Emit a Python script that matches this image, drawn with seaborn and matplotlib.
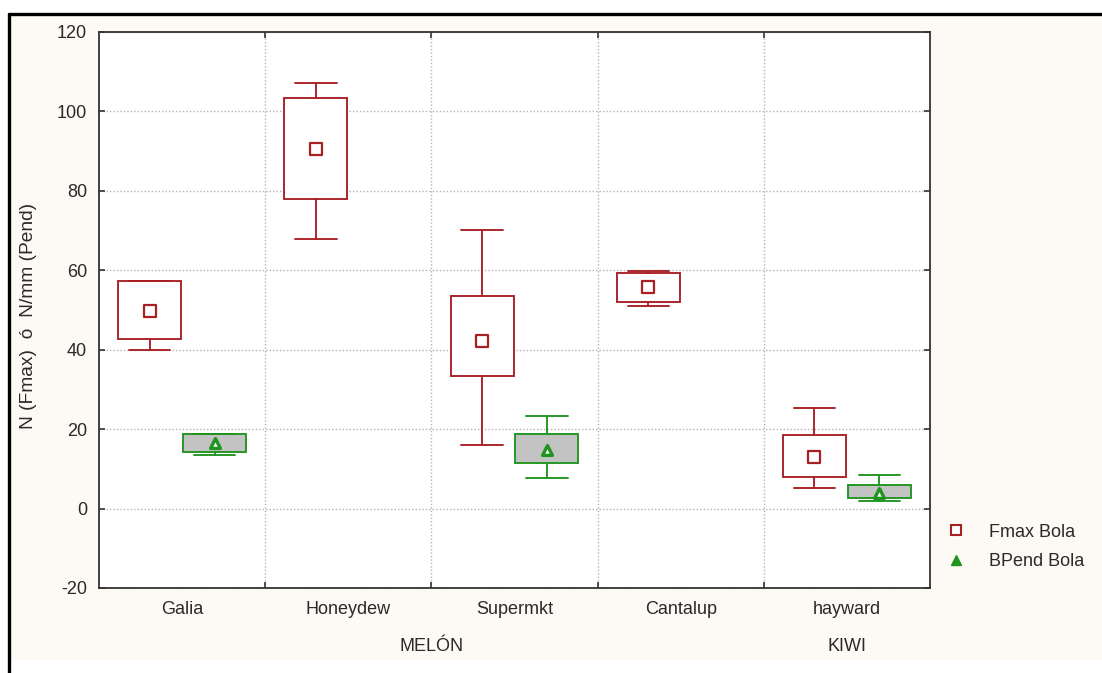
import numpy as np
import pandas as pd
import matplotlib
matplotlib.use("Agg")
import matplotlib.pyplot as plt
from matplotlib.patches import Rectangle
from matplotlib.lines import Line2D
import seaborn as sns

# Cultivars along the x axis and their fruit groups
categories = ["Galia", "Honeydew", "Supermkt", "Cantalup", "hayward"]
groups = ["MELÓN", "KIWI"]

# Fmax Bola: min, Q1, median, Q3, max per cultivar
fmax_min = [40.0, 68.0, 15.9, 51.0, 5.3]
fmax_q1 = [42.7, 77.9, 33.4, 51.9, 8.0]
fmax_med = [49.7, 90.5, 42.3, 55.8, 13.1]
fmax_q3 = [57.3, 103.5, 53.5, 59.3, 18.4]
fmax_max = [57.3, 107.2, 70.1, 59.8, 25.4]

# BPend Bola: min, Q1, median, Q3, max per cultivar (not measured for Honeydew / Cantalup)
bpend_min = [13.5, None, 7.8, None, 2.0]
bpend_q1 = [14.2, None, 11.4, None, 2.7]
bpend_med = [16.6, None, 14.8, None, 3.9]
bpend_q3 = [18.9, None, 18.8, None, 6.0]
bpend_max = [18.9, None, 23.4, None, 8.5]

y_ticks = [-20, 0, 20, 40, 60, 80, 100, 120]

RED = "#a81f24"
GREEN = "#1f951f"
TXT = "#2a2a2a"
FS = 13

sns.set_style("white")
plt.rcParams["font.family"] = ["Liberation Sans", "DejaVu Sans"]

fig = plt.figure(figsize=(11.02, 6.73), dpi=100)
fig.patch.set_facecolor("white")

# cream panel with black top/left frame
fig.add_artist(Rectangle((10 / 1102, 13 / 673), 1.0, (660 - 15) / 673,
                         transform=fig.transFigure, facecolor="#fdf9f4",
                         edgecolor="none", zorder=-5))
fig.add_artist(Line2D([8.5 / 1102, 1.0], [1 - 13.5 / 673, 1 - 13.5 / 673],
                      transform=fig.transFigure, color="black", lw=2.4, zorder=-4))
fig.add_artist(Line2D([8.5 / 1102, 8.5 / 1102], [0, 1 - 13.5 / 673],
                      transform=fig.transFigure, color="black", lw=2.4, zorder=-4))

ax = fig.add_axes([99 / 1102, 85 / 673, 831 / 1102, 556 / 673])
ax.set_facecolor("white")

x = np.arange(len(categories))
off = 0.195
bw = 0.38
capw = 0.25


def stats_for(mins, q1s, meds, q3s, maxs):
    out, pos = [], []
    for i, (a, b, c, d, e) in enumerate(zip(mins, q1s, meds, q3s, maxs)):
        if a is None:
            continue
        out.append(dict(whislo=a, q1=b, med=c, q3=d, whishi=e, fliers=[]))
        pos.append(i)
    return out, pos


fs, fpos = stats_for(fmax_min, fmax_q1, fmax_med, fmax_q3, fmax_max)
bs, bpos = stats_for(bpend_min, bpend_q1, bpend_med, bpend_q3, bpend_max)

lw = 1.35
ax.bxp(fs, positions=np.array(fpos) - off, widths=bw, capwidths=capw,
       patch_artist=True, showfliers=False, manage_ticks=False,
       boxprops=dict(facecolor="white", edgecolor=RED, linewidth=lw),
       whiskerprops=dict(color=RED, linewidth=lw),
       capprops=dict(color=RED, linewidth=lw),
       medianprops=dict(linewidth=0, color="none"), zorder=3)
ax.bxp(bs, positions=np.array(bpos) + off, widths=bw, capwidths=capw,
       patch_artist=True, showfliers=False, manage_ticks=False,
       boxprops=dict(facecolor="#c3c3c3", edgecolor=GREEN, linewidth=lw),
       whiskerprops=dict(color=GREEN, linewidth=lw),
       capprops=dict(color=GREEN, linewidth=lw),
       medianprops=dict(linewidth=0, color="none"), zorder=3)

# median markers
med_df = pd.DataFrame({
    "pos": list(np.array(fpos) - off) + list(np.array(bpos) + off),
    "value": [fmax_med[i] for i in fpos] + [bpend_med[i] for i in bpos],
    "serie": ["Fmax Bola"] * len(fpos) + ["BPend Bola"] * len(bpos),
})
sns.scatterplot(data=med_df[med_df.serie == "Fmax Bola"], x="pos", y="value",
                marker="s", s=70, facecolor="white", edgecolor=RED,
                linewidth=1.6, ax=ax, zorder=5, legend=False)
sns.scatterplot(data=med_df[med_df.serie == "BPend Bola"], x="pos", y="value",
                marker="^", s=50, facecolor="white", edgecolor=GREEN,
                linewidth=2.4, ax=ax, zorder=5, legend=False)

ax.set_xlim(-0.5, len(categories) - 0.5)
ax.set_ylim(-20, 120)
ax.set_yticks(y_ticks)
ax.set_yticklabels([str(v) for v in y_ticks], fontsize=FS, color=TXT)
ax.set_xticks(x)
ax.set_xticklabels(categories, fontsize=FS, color=TXT)
ax.set_xticks(np.arange(len(categories) - 1) + 0.5, minor=True)
ax.tick_params(axis="x", which="major", length=0, pad=9)
ax.tick_params(axis="x", which="minor", direction="in", length=4, width=1.2,
               color="#333333", top=True, bottom=True)
ax.tick_params(axis="y", which="major", direction="in", length=4, width=1.2,
               color="#333333", left=True, right=True, pad=8.5)
ax.set_xlabel("")
ax.set_ylabel("N (Fmax)  ó  N/mm (Pend)", fontsize=13.8, color=TXT)
ax.yaxis.set_label_coords(-0.0746, 0.49)

ax.grid(False)
ax.yaxis.grid(True, which="major", color="#b4b4b4", linestyle=(0, (1, 1.5)), lw=1.0)
ax.xaxis.grid(True, which="minor", color="#b4b4b4", linestyle=(0, (1, 1.5)), lw=1.0)
ax.set_axisbelow(True)
for s in ax.spines.values():
    s.set_visible(True)
    s.set_color("#333333")
    s.set_linewidth(1.3)

# group labels under the cultivar names
trans = ax.get_xaxis_transform()
ax.text(1.5, -0.105, groups[0], transform=trans, ha="center", va="center",
        fontsize=FS, color=TXT)
ax.text(4.0, -0.105, groups[1], transform=trans, ha="center", va="center",
        fontsize=FS, color=TXT)

handles = [
    Line2D([], [], linestyle="none", marker="s", markersize=7.5,
           markerfacecolor="white", markeredgecolor=RED, markeredgewidth=1.5),
    Line2D([], [], linestyle="none", marker="^", markersize=7,
           markerfacecolor=GREEN, markeredgecolor=GREEN, markeredgewidth=1.0),
]
fig.legend(handles, ["Fmax Bola", "BPend Bola"], loc="center left",
           bbox_to_anchor=(926 / 1102, 1 - 547 / 673), frameon=False,
           fontsize=FS, handletextpad=1.1, labelspacing=0.7,
           labelcolor=TXT, handlelength=1.5)

fig.savefig("out.png", dpi=100)
